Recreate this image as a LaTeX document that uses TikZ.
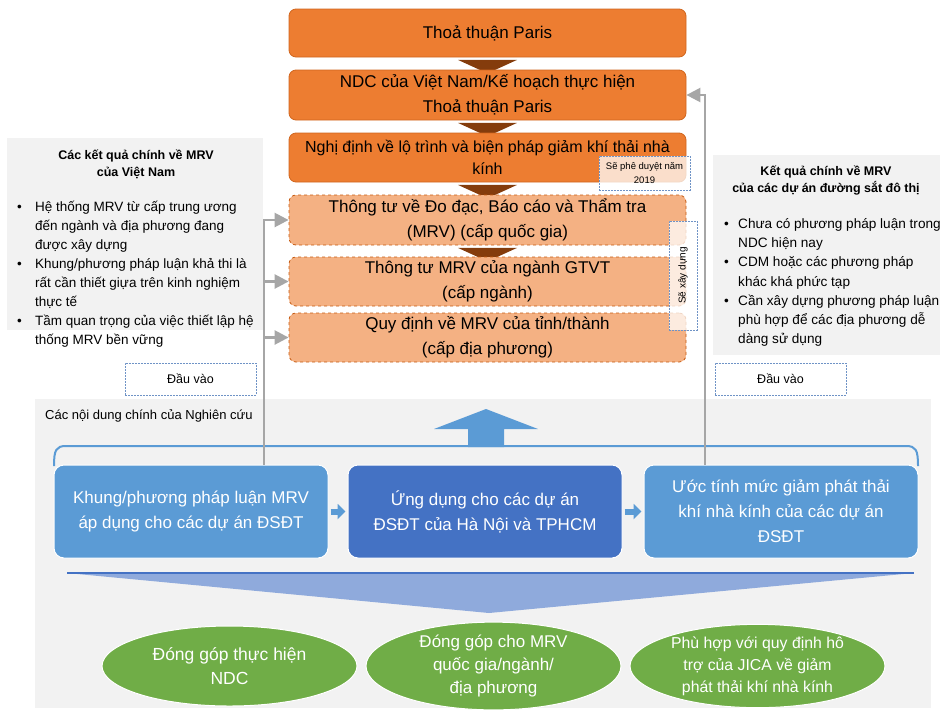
\documentclass[tikz,border=0pt]{standalone}
\usepackage{fontspec}
\setmainfont{Liberation Sans}
\usetikzlibrary{arrows.meta,shapes.geometric,calc}
\pgfdeclarelayer{bg}
\pgfsetlayers{bg,main}

\definecolor{govorange}{HTML}{ED7D31}
\definecolor{govedge}{HTML}{D0661F}
\definecolor{planpeach}{HTML}{F4B183}
\definecolor{planedge}{HTML}{C55A11}
\definecolor{stepbrown}{HTML}{843C0C}
\definecolor{notebord}{HTML}{6F93C6}
\definecolor{panelgray}{HTML}{F2F2F2}
\definecolor{conngray}{HTML}{A6A6A6}
\definecolor{studyblue}{HTML}{5B9BD5}
\definecolor{studydark}{HTML}{4472C4}
\definecolor{funnelblue}{HTML}{8FAADC}
\definecolor{outgreen}{HTML}{70AD47}

\newcommand{\fsz}[2]{\fontsize{#1}{#2}\selectfont}

\begin{document}
\begin{tikzpicture}[x=1pt,y=-1pt,
  govbox/.style={rectangle, rounded corners=7pt, draw=govedge, fill=govorange,
    line width=0.8pt, minimum width=397pt, inner sep=0pt, align=center,
    font=\fsz{17}{25}},
  planbox/.style={govbox, fill=planpeach, draw=planedge, dashed},
  notebox/.style={rectangle, draw=notebord, dash pattern=on 2pt off 1pt,
    line width=0.8pt, fill=white, fill opacity=0.75, text opacity=1,
    inner sep=0pt, align=center},
  inputbox/.style={rectangle, draw=notebord, dash pattern=on 2pt off 1pt,
    line width=0.8pt, fill=white, minimum width=131pt, minimum height=32pt,
    inner sep=0pt, font=\fsz{12.5}{15}},
  panel/.style={rectangle, fill=panelgray, inner sep=0pt},
  paneltitle/.style={align=center, inner sep=0pt, font=\bfseries\fsz{12.5}{17}},
  study/.style={rectangle, rounded corners=10pt, draw=white, line width=1pt,
    minimum width=274pt, minimum height=93pt, inner sep=0pt, text=white,
    align=center, font=\fsz{17}{25}},
  outcome/.style={ellipse, fill=outgreen, draw=white, line width=1pt,
    minimum width=255pt, minimum height=80pt, inner sep=0pt, text=white,
    align=center},
  conn/.style={draw=conngray, line width=2.5pt,
    -{Triangle[length=14pt,width=14pt]}},
  flow/.style={draw=studyblue, line width=6pt, shorten <=2pt, shorten >=2pt,
    -{Triangle[length=8pt,width=15pt]}}
]
\useasboundingbox (0,0) rectangle (942,710);

% background panels
\node[panel, minimum width=256pt, minimum height=192pt] (lpanel) at (135,234) {};
\node[panel, minimum width=227pt, minimum height=200pt] (rpanel) at (826.5,255) {};
\node[panel, minimum width=896pt, minimum height=309pt] (bpanel) at (483,553.5) {};

% policy chain
\node[govbox, minimum height=48pt] (b1) at (487.5,33) {Thoả thuận Paris};
\node[govbox, minimum height=50pt] (b2) at (487.5,95)
  {NDC của Việt Nam/Kế hoạch thực hiện\\Thoả thuận Paris};
\node[govbox, minimum height=49pt, font=\fsz{16}{22}] (b3) at (487.5,157.5)
  {Nghị định về lộ trình  và biện pháp giảm khí thải nhà\\kính};
\node[planbox, minimum height=50pt] (b4) at (487.5,220)
  {Thông tư về Đo đạc, Báo cáo và Thẩm tra\\(MRV) (cấp quốc gia)};
\node[planbox, minimum height=49pt] (b5) at (487.5,281.5)
  {Thông tư MRV của ngành GTVT\\(cấp ngành)};
\node[planbox, minimum height=49pt] (b6) at (487.5,337.5)
  {Quy định về MRV của tỉnh/thành\\(cấp địa phương)};

% step arrows between the policy levels
\begin{pgfonlayer}{bg}
  \foreach \a in {b1,b2,b3,b4}{
    \fill[stepbrown] ($(\a.south)+(-29.5,2.5)$) -- ($(\a.south)+(29.5,2.5)$)
      -- ($(\a.south)+(0,16)$) -- cycle;
  }
\end{pgfonlayer}

% status notes
\node[notebox, minimum width=91pt, minimum height=34pt, font=\fsz{9.5}{14}]
  (appr) at (644.5,173) {Sẽ phê duyệt năm\\2019};
\node[notebox, minimum width=28pt, minimum height=109pt] (build) at (683,275.5) {};
\node[rotate=90, inner sep=0pt, font=\fsz{10}{12}] (buildtxt) at (build.center) {Sẽ xây dựng};

% left findings panel
\node[paneltitle] (ltitle) at (136,164) {Các kết quả chính về MRV\\của Việt Nam};
\node[anchor=base west, inner sep=0pt, font=\fsz{13.5}{19}] (llist) at (17,211.5)
{\begin{tabular}[t]{@{}p{18pt}@{}l@{}}
\textbullet & Hệ thống MRV từ cấp trung ương\\
 & đến ngành và địa phương đang\\
 & được xây dựng\\
\textbullet & Khung/phương pháp luận khả thi là\\
 & rất cần thiết giựa trên kinh nghiệm\\
 & thực tế\\
\textbullet & Tầm quan trọng của việc thiết lập hệ\\
 & thống MRV bền vững
\end{tabular}};

% right findings panel
\node[paneltitle] (rtitle) at (826,180.5) {Kết quả chính về MRV\\của các dự án đường sắt đô thị};
\node[anchor=base west, inner sep=0pt, font=\fsz{13.6}{19.2}] (rlist) at (724,228.5)
{\begin{tabular}[t]{@{}p{14pt}@{}l@{}}
\textbullet & Chưa có phương pháp luận trong\\
 & NDC hiện nay\\
\textbullet & CDM hoặc các phương pháp\\
 & khác khá phức tạp\\
\textbullet & Cần xây dựng phương pháp luận\\
 & phù hợp để các địa phương dễ\\
 & dàng sử dụng
\end{tabular}};

% input labels
\node[inputbox] (inL) at (190.5,379) {Đầu vào};
\node[inputbox] (inR) at (780.5,379) {Đầu vào};

% study contents
\node[anchor=west, inner sep=0pt, font=\fsz{13}{16}] (stitle) at (45,416)
  {Các nội dung chính của Nghiên cứu};

\fill[studyblue] (468,447) -- (468,429) -- (434,429) -- (486,409) -- (538,429)
  -- (504,429) -- (504,447) -- cycle;
\draw[studyblue, line width=2pt] (54,466) .. controls (54,450) and (56,446) .. (66,446)
  -- (906,446) .. controls (916,446) and (918,450) .. (918,466);

\node[study, fill=studyblue] (bA) at (191,511.5)
  {Khung/phương pháp luận MRV\\áp dụng cho các dự án ĐSĐT};
\node[study, fill=studydark] (bB) at (485,511.5)
  {Ứng dụng cho các dự án\\ĐSĐT của Hà Nội và TPHCM};
\node[study, fill=studyblue] (bC) at (781,511.5)
  {Ước tính mức giảm phát thải\\khí nhà kính của các dự án\\ĐSĐT};

\draw[flow] (bA.east) -- (bB.west);
\draw[flow] (bB.east) -- (bC.west);

% funnel towards the outcomes
\fill[funnelblue] (67,573) -- (914,573) -- (489,613) -- cycle;
\draw[studydark, line width=1.2pt] (67,573) -- (914,573);

% outcomes
\node[outcome, font=\fsz{17.5}{24}] (e1) at (229.5,666)
  {Đóng góp thực hiện\\NDC};
\node[outcome, font=\fsz{17}{23}] (e2) at (493.5,666)
  {Đóng góp cho MRV\\quốc gia/ngành/\\địa phương};
\node[outcome, font=\fsz{15.8}{22}] (e3) at (757.5,666)
  {Phù hợp với quy định hô\\trợ của JICA về giảm\\phát thải khí nhà kính};

% feedback connectors
\coordinate (lx) at (264,0);
\coordinate (rx) at (705,0);
\draw[conn] (bA.north -| lx) -- (lx |- b4.west) -- (b4.west);
\draw[conn] (lx |- b5.west) -- (b5.west);
\draw[conn] (lx |- b6.west) -- (b6.west);
\draw[conn] (bC.north -| rx) -- (rx |- b2.east) -- (b2.east);
\end{tikzpicture}
\end{document}
